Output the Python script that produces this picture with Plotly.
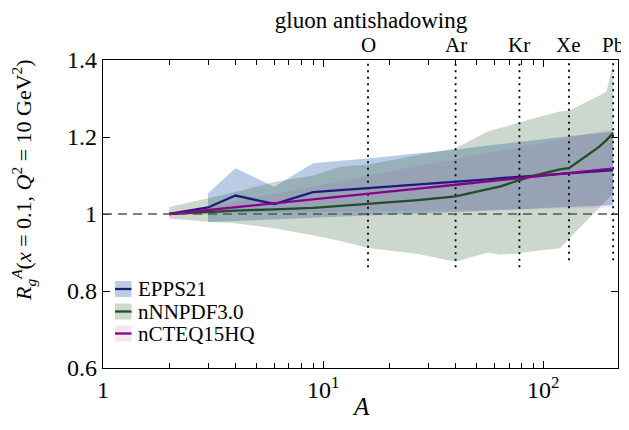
import math
import plotly.graph_objects as go

# ---------------- data ----------------
# EPPS21
epps_A = [2, 3, 4, 6, 9, 12, 16, 27, 40, 56, 64, 84, 108, 131, 184, 208]
epps_central = [1.000, 1.017, 1.048, 1.026, 1.057, 1.062, 1.067, 1.077, 1.084, 1.090,
                1.093, 1.098, 1.102, 1.106, 1.112, 1.114]
epps_band_A = [3, 4, 6, 9, 12, 16, 27, 40, 56, 64, 84, 108, 131, 184, 208]
epps_upper = [1.054, 1.119, 1.071, 1.132, 1.138, 1.144, 1.158, 1.167, 1.178, 1.182,
              1.190, 1.197, 1.202, 1.211, 1.214]
epps_lower = [0.979, 0.982, 0.986, 0.990, 0.993, 0.996, 1.001, 1.005, 1.009, 1.010,
              1.013, 1.016, 1.018, 1.022, 1.023]

# nNNPDF3.0
nn_A = [2, 3, 4, 6, 9, 12, 16, 27, 40, 56, 64, 78, 90, 119, 131, 180, 194, 208]
nn_central = [1.000, 1.006, 1.009, 1.012, 1.016, 1.021, 1.026, 1.036, 1.046, 1.066,
              1.072, 1.088, 1.099, 1.116, 1.119, 1.175, 1.192, 1.211]
nn_upper = [1.018, 1.040, 1.057, 1.083, 1.100, 1.123, 1.128, 1.153, 1.171, 1.214,
            1.224, 1.237, 1.248, 1.266, 1.268, 1.308, 1.318, 1.390]
nn_lower = [0.988, 0.980, 0.976, 0.963, 0.945, 0.930, 0.912, 0.896, 0.876, 0.900,
            0.894, 0.898, 0.903, 0.911, 0.936, 1.017, 1.036, 1.054]

# nCTEQ15HQ
nc_A = [2, 3, 4, 6, 9, 12, 16, 27, 40, 56, 64, 84, 108, 131, 184, 208]
nc_central = [1.000, 1.010, 1.018, 1.028, 1.038, 1.046, 1.053, 1.066, 1.076, 1.085,
              1.088, 1.095, 1.101, 1.106, 1.115, 1.118]
nc_upper = [1.000, 1.018, 1.033, 1.052, 1.071, 1.086, 1.099, 1.124, 1.143, 1.160,
            1.165, 1.178, 1.189, 1.198, 1.215, 1.220]
nc_lower = [1.000, 1.002, 1.003, 1.004, 1.005, 1.006, 1.007, 1.008, 1.009, 1.010,
            1.011, 1.012, 1.013, 1.014, 1.015, 1.016]

# nuclei markers
nuc_labels = ["O", "Ar", "Kr", "Xe", "Pb"]
nuc_A = [16, 40, 78, 131, 208]
nuc_ymin = [0.862, 0.862, 0.862, 0.880, 0.880]

# axis ticks
x_tickvals = [1, 10, 100]
x_ticktext = ["1", "10<sup>1</sup>", "10<sup>2</sup>"]
x_minor = [2, 3, 4, 5, 6, 7, 8, 9, 20, 30, 40, 50, 60, 70, 80, 90]
y_tickvals = [0.6, 0.8, 1.0, 1.2, 1.4]
y_ticktext = ["0.6", "0.8", "1", "1.2", "1.4"]

series_names = ["EPPS21", "nNNPDF3.0", "nCTEQ15HQ"]

# ---------------- style ----------------
FONT = "Liberation Serif"
band_colors = ["rgba(58,110,180,0.35)", "rgba(50,95,55,0.25)", "rgba(139,0,139,0.08)"]
patch_colors = ["#bccde3", "#cddacd", "#f4e6f2"]
line_colors = ["#1c1c7c", "#234d23", "#8b008b"]

fig = go.Figure()


def add_band(A, lo, hi, color):
    fig.add_trace(go.Scatter(
        x=list(A) + list(A)[::-1], y=list(hi) + list(lo)[::-1],
        fill="toself", fillcolor=color, mode="lines", line=dict(width=0),
        hoverinfo="skip", showlegend=False))


add_band(epps_band_A, epps_lower, epps_upper, band_colors[0])
add_band(nn_A, nn_lower, nn_upper, band_colors[1])
add_band(nc_A, nc_lower, nc_upper, band_colors[2])

# nuclei dotted lines
for a, ymin in zip(nuc_A, nuc_ymin):
    fig.add_trace(go.Scatter(x=[a, a], y=[ymin, 1.4], mode="lines",
                             line=dict(color="black", width=1.8, dash="2px,4.5px"),
                             showlegend=False, hoverinfo="skip"))

# central lines
for A, c, col in [(epps_A, epps_central, line_colors[0]),
                  (nn_A, nn_central, line_colors[1]),
                  (nc_A, nc_central, line_colors[2])]:
    fig.add_trace(go.Scatter(x=A, y=c, mode="lines",
                             line=dict(color=col, width=2.3), showlegend=False))

# page body has an 8px margin -> shift the layout up/left by 8px
OFF = 8
L, T = 103, 60          # plot-area left/top in reference pixels
PW, PH = 515, 308


def px(xp):
    return (xp - L) / PW


def py(yp):
    return (T + PH - yp) / PH


shapes = [dict(type="line", xref="x domain", yref="y", x0=0, x1=1, y0=1.0, y1=1.0,
               line=dict(color="#555555", width=1.5, dash="9px,6px"), layer="above")]
annotations = []

# nuclei labels above the plot (log axis: annotation x in log10 units)
for lab, a in zip(nuc_labels, nuc_A):
    annotations.append(dict(text=lab, xref="x", yref="paper", x=math.log10(a), y=py(45),
                            xanchor="center", yanchor="middle", showarrow=False,
                            font=dict(family=FONT, size=21, color="black")))

# manual legend
leg_y = [289, 311.5, 333.5]
for name, pc, lc, yy in zip(series_names, patch_colors, line_colors, leg_y):
    shapes.append(dict(type="rect", xref="paper", yref="paper",
                       x0=px(115), x1=px(131.5), y0=py(yy + 8), y1=py(yy - 8),
                       fillcolor=pc, line=dict(width=0), layer="above"))
    shapes.append(dict(type="line", xref="paper", yref="paper",
                       x0=px(115), x1=px(131.5), y0=py(yy), y1=py(yy),
                       line=dict(color=lc, width=2.3), layer="above"))
    annotations.append(dict(text=name, xref="paper", yref="paper", x=px(136), y=py(yy),
                            xanchor="left", yanchor="middle", showarrow=False,
                            font=dict(family=FONT, size=21, color="black")))

# axis titles
annotations.append(dict(
    text="<i>R</i><sub><i>g</i></sub><sup><i>A</i></sup>(<i>x</i> = 0.1, <i>Q</i><sup>2</sup> = 10 GeV<sup>2</sup>)",
    xref="paper", yref="paper", x=px(23), y=py(180), textangle=-90,
    xanchor="center", yanchor="middle", showarrow=False,
    font=dict(family=FONT, size=22, color="black")))
annotations.append(dict(text="<i>A</i>", xref="paper", yref="paper", x=px(361), y=py(406),
                        xanchor="center", yanchor="middle", showarrow=False,
                        font=dict(family=FONT, size=25, color="black")))

fig.update_layout(
    width=629, height=430,
    margin=dict(l=L - OFF, r=629 - (L - OFF) - PW, t=T - OFF, b=430 - (T - OFF) - PH,
                autoexpand=False),
    plot_bgcolor="white", paper_bgcolor="white",
    title=dict(text="gluon antishadowing", x=(371 - OFF) / 629, xanchor="center",
               y=1 - (20 - OFF) / 430, yanchor="middle", automargin=False,
               font=dict(family=FONT, size=23, color="black")),
    xaxis=dict(type="log", range=[0, 2.34], showline=True, linecolor="black",
               linewidth=1.3, mirror="ticks", ticks="inside", ticklen=7,
               tickcolor="black", tickwidth=1, tickvals=x_tickvals, ticktext=x_ticktext,
               tickfont=dict(family=FONT, size=24, color="black"), automargin=False,
               minor=dict(tickvals=x_minor, ticks="inside", ticklen=5,
                          tickcolor="black", tickwidth=1, showgrid=False),
               showgrid=False, zeroline=False),
    yaxis=dict(range=[0.6, 1.4], showline=True, linecolor="black", linewidth=1.3,
               mirror="ticks", ticks="inside", ticklen=7, tickcolor="black", tickwidth=1,
               tickvals=y_tickvals, ticktext=y_ticktext, automargin=False,
               tickfont=dict(family=FONT, size=24, color="black"),
               showgrid=False, zeroline=False),
    shapes=shapes, annotations=annotations, showlegend=False,
)

fig.write_html("out.html")
